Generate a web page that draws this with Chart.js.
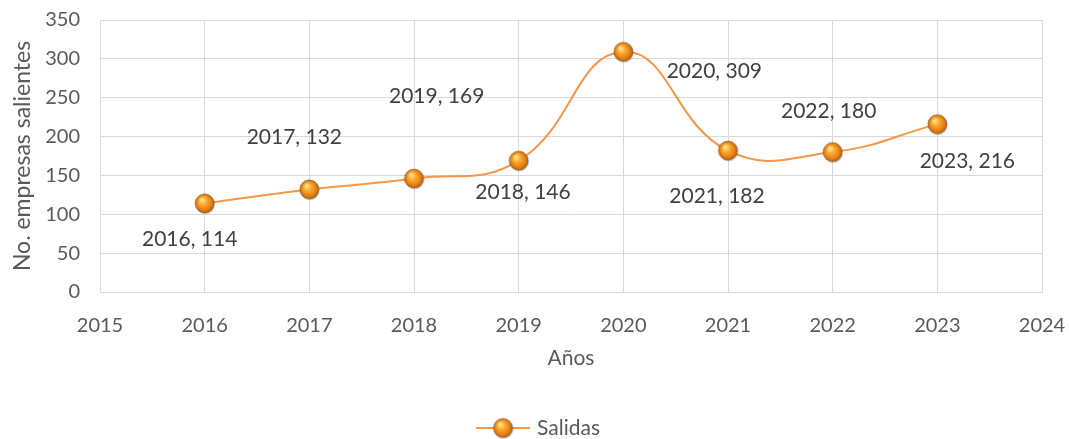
<!DOCTYPE html>
<html>
<head>
<meta charset="utf-8">
<script src="https://cdn.jsdelivr.net/npm/chart.js@4"></script>
<style>
  html, body { margin: 0; padding: 0; background: #fff; }
  #wrap { width: 1069px; height: 439px; }
</style>
</head>
<body>
<div id="wrap"><canvas id="chart" width="1069" height="439"></canvas></div>
<script>
// Chart data
const years = [2016, 2017, 2018, 2019, 2020, 2021, 2022, 2023];
const salidas = [114, 132, 146, 169, 309, 182, 180, 216];
const yTicks = [0, 50, 100, 150, 200, 250, 300, 350];
const xTicks = [2015, 2016, 2017, 2018, 2019, 2020, 2021, 2022, 2023, 2024];

// where Excel put each data label, relative to its point (px)
const labelOffsets = [[-15, 36], [-15, -52], [109, 14], [-82, -64], [91, 19], [-11, 46], [-4, -41], [30, 37]];

const FONT = 'Lato, "Open Sans", sans-serif';
const ORANGE = '#f79646';

// shaded orange ball used as marker
function makeBall(r) {
    const size = Math.ceil(r * 2 + 4);
    const c = document.createElement('canvas');
    c.width = size; c.height = size;
    const g = c.getContext('2d');
    const cx = size / 2, cy = size / 2;
    // soft shadow
    g.beginPath();
    g.arc(cx + 0.8, cy + 1.2, r, 0, Math.PI * 2);
    g.fillStyle = 'rgba(0,0,0,0.18)';
    g.fill();
    const grad = g.createRadialGradient(cx - r * 0.3, cy - r * 0.4, r * 0.1, cx, cy, r);
    grad.addColorStop(0, '#ffe28c');
    grad.addColorStop(0.35, '#fcaa30');
    grad.addColorStop(0.8, '#e27c10');
    grad.addColorStop(1, '#a45e1c');
    g.beginPath();
    g.arc(cx, cy, r, 0, Math.PI * 2);
    g.fillStyle = grad;
    g.fill();
    g.lineWidth = 0.8;
    g.strokeStyle = 'rgba(130,75,25,0.7)';
    g.stroke();
    return c;
}
const ball = makeBall(9.5);

const dataLabels = {
    id: 'dataLabels',
    afterDatasetsDraw(chart) {
        const ctx = chart.ctx;
        const meta = chart.getDatasetMeta(0);
        ctx.save();
        ctx.font = '21px ' + FONT;
        ctx.fillStyle = '#404040';
        ctx.textAlign = 'center';
        ctx.textBaseline = 'middle';
        meta.data.forEach((pt, i) => {
            const off = labelOffsets[i];
            ctx.fillText(years[i] + ', ' + salidas[i], pt.x + off[0], pt.y + off[1]);
        });
        ctx.restore();
    }
};

const bottomLegend = {
    id: 'bottomLegend',
    afterDraw(chart) {
        const ctx = chart.ctx;
        const y = 428;
        ctx.save();
        ctx.strokeStyle = ORANGE;
        ctx.lineWidth = 2;
        ctx.beginPath();
        ctx.moveTo(476, y);
        ctx.lineTo(530, y);
        ctx.stroke();
        ctx.drawImage(ball, 503 - ball.width / 2, y - ball.height / 2);
        ctx.font = '21px ' + FONT;
        ctx.fillStyle = '#595959';
        ctx.textAlign = 'left';
        ctx.textBaseline = 'middle';
        ctx.fillText('Salidas', 537, y);
        ctx.restore();
    }
};

new Chart(document.getElementById('chart'), {
    type: 'line',
    data: {
        datasets: [{
            label: 'Salidas',
            data: years.map((y, i) => ({ x: y, y: salidas[i] })),
            borderColor: ORANGE,
            borderWidth: 2,
            tension: 0.45,
            pointStyle: ball,
            pointRadius: 10,
            pointHoverRadius: 10,
            fill: false
        }]
    },
    options: {
        responsive: false,
        animation: false,
        events: [],
        layout: { padding: { top: 20, right: 27, left: 0, bottom: 67 } },
        plugins: {
            legend: { display: false },
            tooltip: { enabled: false }
        },
        scales: {
            x: {
                type: 'linear',
                min: 2015,
                max: 2024,
                afterBuildTicks: s => { s.ticks = xTicks.map(v => ({ value: v })); },
                afterFit: s => { s.height = 80; s.paddingLeft = 0; s.paddingRight = 0; },
                grid: { color: '#d9d9d9', drawTicks: false },
                border: { color: '#d9d9d9' },
                ticks: {
                    padding: 22,
                    color: '#595959',
                    font: { family: FONT, size: 20 },
                    callback: v => String(v)
                },
                title: {
                    display: true,
                    text: 'Años',
                    color: '#595959',
                    font: { family: FONT, size: 21 },
                    padding: { top: 0, bottom: 1 }
                }
            },
            y: {
                min: 0,
                max: 350,
                afterBuildTicks: s => { s.ticks = yTicks.map(v => ({ value: v })); },
                afterFit: s => { s.width = 100; s.paddingTop = 0; s.paddingBottom = 0; },
                grid: { color: '#d9d9d9', drawTicks: false },
                border: { color: '#d9d9d9' },
                ticks: {
                    padding: 20,
                    color: '#595959',
                    font: { family: FONT, size: 20 }
                },
                title: {
                    display: true,
                    text: 'No. empresas salientes',
                    color: '#595959',
                    font: { family: FONT, size: 23 },
                    padding: { top: 9, bottom: 0 }
                }
            }
        }
    },
    plugins: [dataLabels, bottomLegend]
});
</script>
</body>
</html>
